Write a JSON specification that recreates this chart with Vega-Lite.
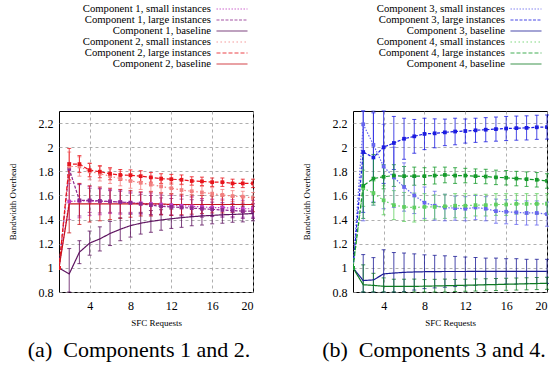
{
  "$schema": "https://vega.github.io/schema/vega-lite/v6.json",
  "background": "white",
  "padding": {"left": 7, "top": 2, "right": 2, "bottom": 2},
  "spacing": 45,
  "config": {
    "font": "Liberation Serif",
    "view": {"stroke": "black", "strokeWidth": 1},
    "title": {"font": "Liberation Serif", "fontWeight": "normal", "color": "black"},
    "axis": {"grid": true, "gridColor": "#9a9a9a", "gridDash": [3, 3], "gridWidth": 0.8, "domain": false, "ticks": false, "labelFont": "Liberation Serif", "labelFontSize": 12, "labelColor": "black", "titleFont": "Liberation Serif", "titleFontSize": 9, "titleFontWeight": "normal", "titleColor": "black"},
    "legend": {"symbolType": "M-3,0H3", "symbolSize": 107, "labelFont": "Liberation Serif", "labelFontSize": 10.7, "labelColor": "black", "rowPadding": 0, "labelLimit": 400, "padding": 0}
  },
  "resolve": {"scale": {"color": "independent", "strokeDash": "independent", "strokeWidth": "independent"}},
  "hconcat": [
    {
      "width": 194, "height": 181,
      "title": {"text": "(a)\u00a0\u00a0Components 1 and 2.", "orient": "bottom", "fontSize": 22, "fontWeight": "normal", "font": "Liberation Serif", "color": "black", "frame": "group", "anchor": "middle", "dx": -17, "offset": 13},
      "data": {"values": [
        {"s":"Component 1, small instances","x":1,"y":1.0,"e":0},
        {"s":"Component 1, small instances","x":2,"y":1.55,"e":0.15},
        {"s":"Component 1, small instances","x":3,"y":1.555,"e":0.14},
        {"s":"Component 1, small instances","x":4,"y":1.555,"e":0.12},
        {"s":"Component 1, small instances","x":5,"y":1.55,"e":0.11},
        {"s":"Component 1, small instances","x":6,"y":1.55,"e":0.1},
        {"s":"Component 1, small instances","x":7,"y":1.545,"e":0.1},
        {"s":"Component 1, small instances","x":8,"y":1.54,"e":0.09},
        {"s":"Component 1, small instances","x":9,"y":1.535,"e":0.09},
        {"s":"Component 1, small instances","x":10,"y":1.53,"e":0.09},
        {"s":"Component 1, small instances","x":11,"y":1.525,"e":0.08},
        {"s":"Component 1, small instances","x":12,"y":1.52,"e":0.08},
        {"s":"Component 1, small instances","x":13,"y":1.515,"e":0.08},
        {"s":"Component 1, small instances","x":14,"y":1.51,"e":0.08},
        {"s":"Component 1, small instances","x":15,"y":1.505,"e":0.07},
        {"s":"Component 1, small instances","x":16,"y":1.5,"e":0.07},
        {"s":"Component 1, small instances","x":17,"y":1.5,"e":0.07},
        {"s":"Component 1, small instances","x":18,"y":1.495,"e":0.07},
        {"s":"Component 1, small instances","x":19,"y":1.49,"e":0.07},
        {"s":"Component 1, small instances","x":20,"y":1.49,"e":0.07},
        {"s":"Component 1, large instances","x":1,"y":1.0,"e":0},
        {"s":"Component 1, large instances","x":2,"y":1.82,"e":0.05},
        {"s":"Component 1, large instances","x":3,"y":1.56,"e":0.13},
        {"s":"Component 1, large instances","x":4,"y":1.56,"e":0.1},
        {"s":"Component 1, large instances","x":5,"y":1.555,"e":0.1},
        {"s":"Component 1, large instances","x":6,"y":1.55,"e":0.09},
        {"s":"Component 1, large instances","x":7,"y":1.545,"e":0.09},
        {"s":"Component 1, large instances","x":8,"y":1.54,"e":0.08},
        {"s":"Component 1, large instances","x":9,"y":1.53,"e":0.08},
        {"s":"Component 1, large instances","x":10,"y":1.52,"e":0.08},
        {"s":"Component 1, large instances","x":11,"y":1.51,"e":0.07},
        {"s":"Component 1, large instances","x":12,"y":1.505,"e":0.07},
        {"s":"Component 1, large instances","x":13,"y":1.5,"e":0.07},
        {"s":"Component 1, large instances","x":14,"y":1.495,"e":0.07},
        {"s":"Component 1, large instances","x":15,"y":1.49,"e":0.07},
        {"s":"Component 1, large instances","x":16,"y":1.485,"e":0.06},
        {"s":"Component 1, large instances","x":17,"y":1.48,"e":0.06},
        {"s":"Component 1, large instances","x":18,"y":1.475,"e":0.06},
        {"s":"Component 1, large instances","x":19,"y":1.47,"e":0.06},
        {"s":"Component 1, large instances","x":20,"y":1.47,"e":0.06},
        {"s":"Component 1, baseline","x":1,"y":1.0,"e":0},
        {"s":"Component 1, baseline","x":2,"y":0.95,"e":0.21},
        {"s":"Component 1, baseline","x":3,"y":1.13,"e":0.095},
        {"s":"Component 1, baseline","x":4,"y":1.205,"e":0.1},
        {"s":"Component 1, baseline","x":5,"y":1.24,"e":0.1},
        {"s":"Component 1, baseline","x":6,"y":1.285,"e":0.1},
        {"s":"Component 1, baseline","x":7,"y":1.32,"e":0.095},
        {"s":"Component 1, baseline","x":8,"y":1.35,"e":0.095},
        {"s":"Component 1, baseline","x":9,"y":1.37,"e":0.09},
        {"s":"Component 1, baseline","x":10,"y":1.385,"e":0.09},
        {"s":"Component 1, baseline","x":11,"y":1.397,"e":0.085},
        {"s":"Component 1, baseline","x":12,"y":1.407,"e":0.08},
        {"s":"Component 1, baseline","x":13,"y":1.416,"e":0.08},
        {"s":"Component 1, baseline","x":14,"y":1.424,"e":0.075},
        {"s":"Component 1, baseline","x":15,"y":1.43,"e":0.075},
        {"s":"Component 1, baseline","x":16,"y":1.435,"e":0.07},
        {"s":"Component 1, baseline","x":17,"y":1.44,"e":0.07},
        {"s":"Component 1, baseline","x":18,"y":1.443,"e":0.065},
        {"s":"Component 1, baseline","x":19,"y":1.446,"e":0.065},
        {"s":"Component 1, baseline","x":20,"y":1.45,"e":0.06},
        {"s":"Component 2, small instances","x":1,"y":1.0,"e":0},
        {"s":"Component 2, small instances","x":2,"y":1.84,"e":0.12},
        {"s":"Component 2, small instances","x":3,"y":1.84,"e":0.08},
        {"s":"Component 2, small instances","x":4,"y":1.8,"e":0.07},
        {"s":"Component 2, small instances","x":5,"y":1.78,"e":0.06},
        {"s":"Component 2, small instances","x":6,"y":1.76,"e":0.06},
        {"s":"Component 2, small instances","x":7,"y":1.74,"e":0.06},
        {"s":"Component 2, small instances","x":8,"y":1.72,"e":0.06},
        {"s":"Component 2, small instances","x":9,"y":1.705,"e":0.055},
        {"s":"Component 2, small instances","x":10,"y":1.69,"e":0.055},
        {"s":"Component 2, small instances","x":11,"y":1.675,"e":0.05},
        {"s":"Component 2, small instances","x":12,"y":1.66,"e":0.05},
        {"s":"Component 2, small instances","x":13,"y":1.645,"e":0.05},
        {"s":"Component 2, small instances","x":14,"y":1.635,"e":0.05},
        {"s":"Component 2, small instances","x":15,"y":1.625,"e":0.05},
        {"s":"Component 2, small instances","x":16,"y":1.615,"e":0.05},
        {"s":"Component 2, small instances","x":17,"y":1.605,"e":0.045},
        {"s":"Component 2, small instances","x":18,"y":1.595,"e":0.045},
        {"s":"Component 2, small instances","x":19,"y":1.59,"e":0.045},
        {"s":"Component 2, small instances","x":20,"y":1.58,"e":0.045},
        {"s":"Component 2, large instances","x":1,"y":1.0,"e":0},
        {"s":"Component 2, large instances","x":2,"y":1.86,"e":0.13},
        {"s":"Component 2, large instances","x":3,"y":1.86,"e":0.07},
        {"s":"Component 2, large instances","x":4,"y":1.81,"e":0.055},
        {"s":"Component 2, large instances","x":5,"y":1.797,"e":0.05},
        {"s":"Component 2, large instances","x":6,"y":1.78,"e":0.05},
        {"s":"Component 2, large instances","x":7,"y":1.77,"e":0.045},
        {"s":"Component 2, large instances","x":8,"y":1.767,"e":0.045},
        {"s":"Component 2, large instances","x":9,"y":1.76,"e":0.045},
        {"s":"Component 2, large instances","x":10,"y":1.75,"e":0.04},
        {"s":"Component 2, large instances","x":11,"y":1.74,"e":0.04},
        {"s":"Component 2, large instances","x":12,"y":1.735,"e":0.04},
        {"s":"Component 2, large instances","x":13,"y":1.73,"e":0.04},
        {"s":"Component 2, large instances","x":14,"y":1.72,"e":0.035},
        {"s":"Component 2, large instances","x":15,"y":1.717,"e":0.035},
        {"s":"Component 2, large instances","x":16,"y":1.71,"e":0.035},
        {"s":"Component 2, large instances","x":17,"y":1.71,"e":0.035},
        {"s":"Component 2, large instances","x":18,"y":1.7,"e":0.035},
        {"s":"Component 2, large instances","x":19,"y":1.7,"e":0.035},
        {"s":"Component 2, large instances","x":20,"y":1.7,"e":0.035},
        {"s":"Component 2, baseline","x":1,"y":1.0,"e":0},
        {"s":"Component 2, baseline","x":2,"y":1.53,"e":0.24},
        {"s":"Component 2, baseline","x":3,"y":1.53,"e":0.17},
        {"s":"Component 2, baseline","x":4,"y":1.53,"e":0.15},
        {"s":"Component 2, baseline","x":5,"y":1.53,"e":0.14},
        {"s":"Component 2, baseline","x":6,"y":1.53,"e":0.13},
        {"s":"Component 2, baseline","x":7,"y":1.53,"e":0.12},
        {"s":"Component 2, baseline","x":8,"y":1.53,"e":0.11},
        {"s":"Component 2, baseline","x":9,"y":1.53,"e":0.1},
        {"s":"Component 2, baseline","x":10,"y":1.53,"e":0.1},
        {"s":"Component 2, baseline","x":11,"y":1.53,"e":0.09},
        {"s":"Component 2, baseline","x":12,"y":1.525,"e":0.09},
        {"s":"Component 2, baseline","x":13,"y":1.525,"e":0.085},
        {"s":"Component 2, baseline","x":14,"y":1.525,"e":0.08},
        {"s":"Component 2, baseline","x":15,"y":1.525,"e":0.075},
        {"s":"Component 2, baseline","x":16,"y":1.525,"e":0.07},
        {"s":"Component 2, baseline","x":17,"y":1.525,"e":0.07},
        {"s":"Component 2, baseline","x":18,"y":1.525,"e":0.065},
        {"s":"Component 2, baseline","x":19,"y":1.525,"e":0.065},
        {"s":"Component 2, baseline","x":20,"y":1.525,"e":0.06}
      ]},
      "encoding": {
        "x": {"field": "x", "type": "quantitative", "scale": {"domain": [1, 20], "nice": false, "zero": false}, "axis": {"values": [4, 8, 12, 16, 20], "title": "SFC Requests", "labelPadding": 8, "titlePadding": 7}},
        "y": {"field": "y", "type": "quantitative", "scale": {"domain": [0.8, 2.3], "nice": false, "zero": false, "clamp": true}, "axis": {"values": [0.8, 1, 1.2, 1.4, 1.6, 1.8, 2, 2.2], "labelExpr": "format(datum.value, '~g')", "title": "Bandwidth Overhead", "labelPadding": 6, "titlePadding": 21}},
        "color": {"field": "s", "type": "nominal", "title": null, "legend": {"orient": "none", "legendX": 167, "legendY": -108, "labelAlign": "right", "labelOffset": -27, "symbolType": "M-3,0H3"}, "scale": {"domain": ["Component 1, small instances", "Component 1, large instances", "Component 1, baseline", "Component 2, small instances", "Component 2, large instances", "Component 2, baseline"], "range": ["#c040c0", "#8e2a8e", "#5e1460", "#f28080", "#e8141c", "#c8141c"]}}
      },
      "layer": [
        {
          "transform": [{"filter": "datum.e > 0"}],
          "mark": {"type": "errorbar", "ticks": {"size": 4}, "thickness": 1, "opacity": 0.8},
          "encoding": {"yError": {"field": "e"}}
        },
        {
          "mark": {"type": "line", "clip": true},
          "encoding": {
            "strokeDash": {"field": "s", "type": "nominal", "title": null, "legend": {"orient": "none", "legendX": 167, "legendY": -108, "labelAlign": "right", "labelOffset": -27, "symbolType": "M-3,0H3"}, "scale": {"domain": ["Component 1, small instances", "Component 1, large instances", "Component 1, baseline", "Component 2, small instances", "Component 2, large instances", "Component 2, baseline"], "range": [[1.5, 1.5], [3, 1.5], [1, 0], [1.5, 2.5], [4, 2], [1, 0]]}},
            "strokeWidth": {"field": "s", "type": "nominal", "title": null, "legend": {"orient": "none", "legendX": 167, "legendY": -108, "labelAlign": "right", "labelOffset": -27, "symbolType": "M-3,0H3"}, "scale": {"domain": ["Component 1, small instances", "Component 1, large instances", "Component 1, baseline", "Component 2, small instances", "Component 2, large instances", "Component 2, baseline"], "range": [1.2, 1.2, 2, 1.2, 1.2, 2]}}
          }
        },
        {
          "transform": [{"filter": "indexof(datum.s, 'baseline') < 0"}],
          "mark": {"type": "point", "shape": "square", "filled": true, "size": 14, "opacity": 1, "clip": true}
        }
      ]
    },
    {
      "width": 194, "height": 181,
      "title": {"text": "(b)\u00a0\u00a0Components 3 and 4.", "orient": "bottom", "fontSize": 22, "fontWeight": "normal", "font": "Liberation Serif", "color": "black", "frame": "group", "anchor": "middle", "dx": -16, "offset": 13},
      "data": {"values": [
        {"s":"Component 3, small instances","x":1,"y":1.0,"e":0},
        {"s":"Component 3, small instances","x":2,"y":2.19,"e":0.8},
        {"s":"Component 3, small instances","x":3,"y":2.02,"e":0.5},
        {"s":"Component 3, small instances","x":4,"y":1.84,"e":0.35},
        {"s":"Component 3, small instances","x":5,"y":1.75,"e":0.25},
        {"s":"Component 3, small instances","x":6,"y":1.67,"e":0.2},
        {"s":"Component 3, small instances","x":7,"y":1.6,"e":0.15},
        {"s":"Component 3, small instances","x":8,"y":1.54,"e":0.13},
        {"s":"Component 3, small instances","x":9,"y":1.515,"e":0.12},
        {"s":"Component 3, small instances","x":10,"y":1.5,"e":0.11},
        {"s":"Component 3, small instances","x":11,"y":1.495,"e":0.1},
        {"s":"Component 3, small instances","x":12,"y":1.49,"e":0.1},
        {"s":"Component 3, small instances","x":13,"y":1.5,"e":0.1},
        {"s":"Component 3, small instances","x":14,"y":1.49,"e":0.1},
        {"s":"Component 3, small instances","x":15,"y":1.47,"e":0.1},
        {"s":"Component 3, small instances","x":16,"y":1.465,"e":0.1},
        {"s":"Component 3, small instances","x":17,"y":1.46,"e":0.1},
        {"s":"Component 3, small instances","x":18,"y":1.455,"e":0.1},
        {"s":"Component 3, small instances","x":19,"y":1.455,"e":0.1},
        {"s":"Component 3, small instances","x":20,"y":1.445,"e":0.1},
        {"s":"Component 3, large instances","x":1,"y":1.0,"e":0},
        {"s":"Component 3, large instances","x":2,"y":1.96,"e":0.5},
        {"s":"Component 3, large instances","x":3,"y":1.915,"e":0.37},
        {"s":"Component 3, large instances","x":4,"y":2.0,"e":0.3},
        {"s":"Component 3, large instances","x":5,"y":2.035,"e":0.22},
        {"s":"Component 3, large instances","x":6,"y":2.07,"e":0.17},
        {"s":"Component 3, large instances","x":7,"y":2.09,"e":0.14},
        {"s":"Component 3, large instances","x":8,"y":2.11,"e":0.13},
        {"s":"Component 3, large instances","x":9,"y":2.115,"e":0.12},
        {"s":"Component 3, large instances","x":10,"y":2.123,"e":0.11},
        {"s":"Component 3, large instances","x":11,"y":2.13,"e":0.11},
        {"s":"Component 3, large instances","x":12,"y":2.134,"e":0.1},
        {"s":"Component 3, large instances","x":13,"y":2.14,"e":0.1},
        {"s":"Component 3, large instances","x":14,"y":2.145,"e":0.1},
        {"s":"Component 3, large instances","x":15,"y":2.15,"e":0.1},
        {"s":"Component 3, large instances","x":16,"y":2.155,"e":0.1},
        {"s":"Component 3, large instances","x":17,"y":2.158,"e":0.1},
        {"s":"Component 3, large instances","x":18,"y":2.16,"e":0.1},
        {"s":"Component 3, large instances","x":19,"y":2.165,"e":0.1},
        {"s":"Component 3, large instances","x":20,"y":2.167,"e":0.1},
        {"s":"Component 3, baseline","x":1,"y":1.0,"e":0},
        {"s":"Component 3, baseline","x":2,"y":0.895,"e":0.215},
        {"s":"Component 3, baseline","x":3,"y":0.9,"e":0.185},
        {"s":"Component 3, baseline","x":4,"y":0.95,"e":0.2},
        {"s":"Component 3, baseline","x":5,"y":0.957,"e":0.17},
        {"s":"Component 3, baseline","x":6,"y":0.963,"e":0.16},
        {"s":"Component 3, baseline","x":7,"y":0.966,"e":0.15},
        {"s":"Component 3, baseline","x":8,"y":0.968,"e":0.14},
        {"s":"Component 3, baseline","x":9,"y":0.969,"e":0.135},
        {"s":"Component 3, baseline","x":10,"y":0.97,"e":0.13},
        {"s":"Component 3, baseline","x":11,"y":0.97,"e":0.125},
        {"s":"Component 3, baseline","x":12,"y":0.97,"e":0.12},
        {"s":"Component 3, baseline","x":13,"y":0.971,"e":0.115},
        {"s":"Component 3, baseline","x":14,"y":0.971,"e":0.11},
        {"s":"Component 3, baseline","x":15,"y":0.971,"e":0.11},
        {"s":"Component 3, baseline","x":16,"y":0.971,"e":0.105},
        {"s":"Component 3, baseline","x":17,"y":0.971,"e":0.105},
        {"s":"Component 3, baseline","x":18,"y":0.971,"e":0.1},
        {"s":"Component 3, baseline","x":19,"y":0.971,"e":0.1},
        {"s":"Component 3, baseline","x":20,"y":0.971,"e":0.1},
        {"s":"Component 4, small instances","x":1,"y":1.0,"e":0},
        {"s":"Component 4, small instances","x":2,"y":1.66,"e":0.15},
        {"s":"Component 4, small instances","x":3,"y":1.62,"e":0.1},
        {"s":"Component 4, small instances","x":4,"y":1.56,"e":0.12},
        {"s":"Component 4, small instances","x":5,"y":1.52,"e":0.12},
        {"s":"Component 4, small instances","x":6,"y":1.505,"e":0.12},
        {"s":"Component 4, small instances","x":7,"y":1.5,"e":0.12},
        {"s":"Component 4, small instances","x":8,"y":1.505,"e":0.11},
        {"s":"Component 4, small instances","x":9,"y":1.505,"e":0.1},
        {"s":"Component 4, small instances","x":10,"y":1.51,"e":0.1},
        {"s":"Component 4, small instances","x":11,"y":1.515,"e":0.1},
        {"s":"Component 4, small instances","x":12,"y":1.515,"e":0.1},
        {"s":"Component 4, small instances","x":13,"y":1.52,"e":0.09},
        {"s":"Component 4, small instances","x":14,"y":1.52,"e":0.09},
        {"s":"Component 4, small instances","x":15,"y":1.525,"e":0.09},
        {"s":"Component 4, small instances","x":16,"y":1.525,"e":0.09},
        {"s":"Component 4, small instances","x":17,"y":1.53,"e":0.085},
        {"s":"Component 4, small instances","x":18,"y":1.53,"e":0.085},
        {"s":"Component 4, small instances","x":19,"y":1.53,"e":0.085},
        {"s":"Component 4, small instances","x":20,"y":1.53,"e":0.085},
        {"s":"Component 4, large instances","x":1,"y":1.0,"e":0},
        {"s":"Component 4, large instances","x":2,"y":1.68,"e":0.27},
        {"s":"Component 4, large instances","x":3,"y":1.74,"e":0.2},
        {"s":"Component 4, large instances","x":4,"y":1.755,"e":0.1},
        {"s":"Component 4, large instances","x":5,"y":1.765,"e":0.09},
        {"s":"Component 4, large instances","x":6,"y":1.76,"e":0.08},
        {"s":"Component 4, large instances","x":7,"y":1.76,"e":0.075},
        {"s":"Component 4, large instances","x":8,"y":1.76,"e":0.07},
        {"s":"Component 4, large instances","x":9,"y":1.765,"e":0.07},
        {"s":"Component 4, large instances","x":10,"y":1.77,"e":0.065},
        {"s":"Component 4, large instances","x":11,"y":1.765,"e":0.065},
        {"s":"Component 4, large instances","x":12,"y":1.765,"e":0.06},
        {"s":"Component 4, large instances","x":13,"y":1.76,"e":0.06},
        {"s":"Component 4, large instances","x":14,"y":1.757,"e":0.06},
        {"s":"Component 4, large instances","x":15,"y":1.75,"e":0.06},
        {"s":"Component 4, large instances","x":16,"y":1.747,"e":0.06},
        {"s":"Component 4, large instances","x":17,"y":1.74,"e":0.06},
        {"s":"Component 4, large instances","x":18,"y":1.735,"e":0.06},
        {"s":"Component 4, large instances","x":19,"y":1.73,"e":0.06},
        {"s":"Component 4, large instances","x":20,"y":1.72,"e":0.06},
        {"s":"Component 4, baseline","x":1,"y":1.0,"e":0},
        {"s":"Component 4, baseline","x":2,"y":0.86,"e":0.165},
        {"s":"Component 4, baseline","x":3,"y":0.855,"e":0.1},
        {"s":"Component 4, baseline","x":4,"y":0.847,"e":0.07},
        {"s":"Component 4, baseline","x":5,"y":0.846,"e":0.06},
        {"s":"Component 4, baseline","x":6,"y":0.846,"e":0.06},
        {"s":"Component 4, baseline","x":7,"y":0.847,"e":0.06},
        {"s":"Component 4, baseline","x":8,"y":0.848,"e":0.055},
        {"s":"Component 4, baseline","x":9,"y":0.85,"e":0.055},
        {"s":"Component 4, baseline","x":10,"y":0.852,"e":0.055},
        {"s":"Component 4, baseline","x":11,"y":0.854,"e":0.05},
        {"s":"Component 4, baseline","x":12,"y":0.856,"e":0.05},
        {"s":"Component 4, baseline","x":13,"y":0.858,"e":0.05},
        {"s":"Component 4, baseline","x":14,"y":0.86,"e":0.05},
        {"s":"Component 4, baseline","x":15,"y":0.862,"e":0.05},
        {"s":"Component 4, baseline","x":16,"y":0.864,"e":0.05},
        {"s":"Component 4, baseline","x":17,"y":0.866,"e":0.05},
        {"s":"Component 4, baseline","x":18,"y":0.868,"e":0.05},
        {"s":"Component 4, baseline","x":19,"y":0.87,"e":0.05},
        {"s":"Component 4, baseline","x":20,"y":0.872,"e":0.05}
      ]},
      "encoding": {
        "x": {"field": "x", "type": "quantitative", "scale": {"domain": [1, 20], "nice": false, "zero": false}, "axis": {"values": [4, 8, 12, 16, 20], "title": "SFC Requests", "labelPadding": 8, "titlePadding": 7}},
        "y": {"field": "y", "type": "quantitative", "scale": {"domain": [0.8, 2.3], "nice": false, "zero": false, "clamp": true}, "axis": {"values": [0.8, 1, 1.2, 1.4, 1.6, 1.8, 2, 2.2], "labelExpr": "format(datum.value, '~g')", "title": "Bandwidth Overhead", "labelPadding": 6, "titlePadding": 21}},
        "color": {"field": "s", "type": "nominal", "title": null, "legend": {"orient": "none", "legendX": 167, "legendY": -108, "labelAlign": "right", "labelOffset": -27, "symbolType": "M-3,0H3"}, "scale": {"domain": ["Component 3, small instances", "Component 3, large instances", "Component 3, baseline", "Component 4, small instances", "Component 4, large instances", "Component 4, baseline"], "range": ["#6666ee", "#1c1ce0", "#1c1c96", "#5fcf5f", "#159a2a", "#0e7a22"]}}
      },
      "layer": [
        {
          "transform": [{"filter": "datum.e > 0"}],
          "mark": {"type": "errorbar", "ticks": {"size": 4}, "thickness": 1, "opacity": 0.8},
          "encoding": {"yError": {"field": "e"}}
        },
        {
          "mark": {"type": "line", "clip": true},
          "encoding": {
            "strokeDash": {"field": "s", "type": "nominal", "title": null, "legend": {"orient": "none", "legendX": 167, "legendY": -108, "labelAlign": "right", "labelOffset": -27, "symbolType": "M-3,0H3"}, "scale": {"domain": ["Component 3, small instances", "Component 3, large instances", "Component 3, baseline", "Component 4, small instances", "Component 4, large instances", "Component 4, baseline"], "range": [[1.5, 1.5], [3, 1.5], [1, 0], [1.5, 2.5], [4, 2], [1, 0]]}},
            "strokeWidth": {"field": "s", "type": "nominal", "title": null, "legend": {"orient": "none", "legendX": 167, "legendY": -108, "labelAlign": "right", "labelOffset": -27, "symbolType": "M-3,0H3"}, "scale": {"domain": ["Component 3, small instances", "Component 3, large instances", "Component 3, baseline", "Component 4, small instances", "Component 4, large instances", "Component 4, baseline"], "range": [1.2, 1.2, 2, 1.2, 1.2, 2]}}
          }
        },
        {
          "transform": [{"filter": "indexof(datum.s, 'baseline') < 0"}],
          "mark": {"type": "point", "shape": "square", "filled": true, "size": 14, "opacity": 1, "clip": true}
        }
      ]
    }
  ]
}
